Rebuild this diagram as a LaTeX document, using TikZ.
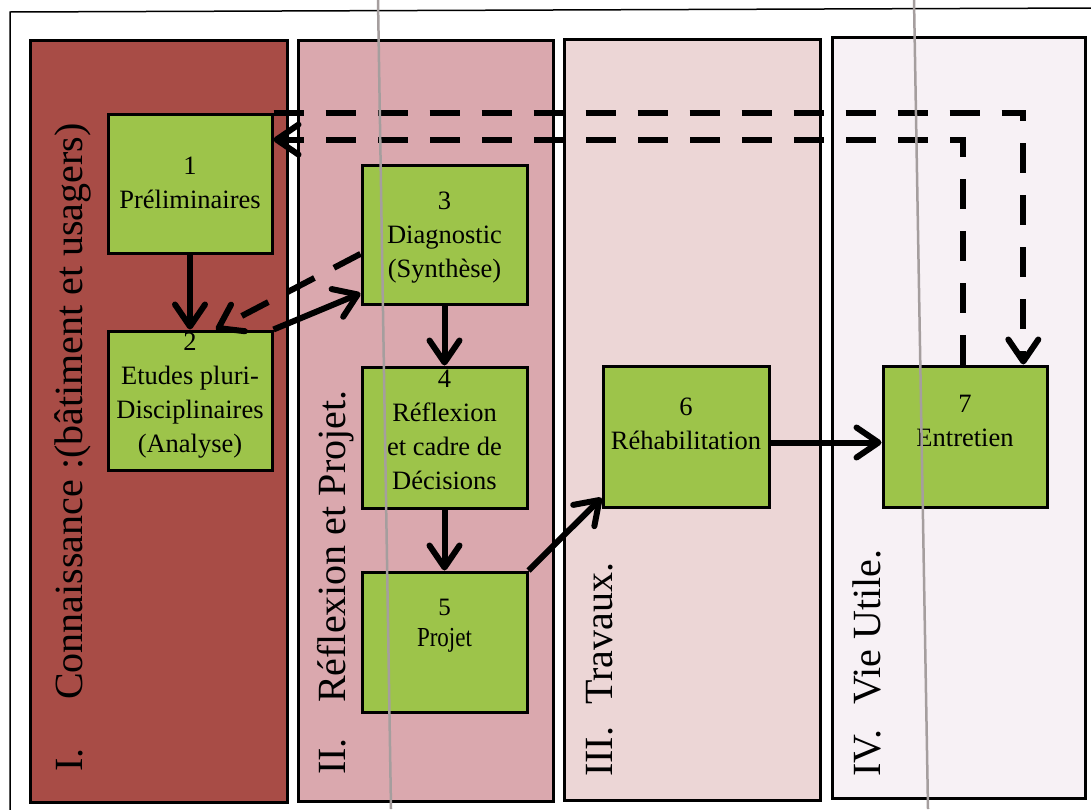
\documentclass[tikz,border=0pt]{standalone}
\usepackage{fontspec}
\setmainfont{Liberation Serif}
\usetikzlibrary{arrows.meta}
\definecolor{colI}{RGB}{168,76,70}
\definecolor{colII}{RGB}{218,168,174}
\definecolor{colIII}{RGB}{236,214,214}
\definecolor{colIV}{RGB}{247,241,245}
\definecolor{boxgreen}{RGB}{157,196,74}
\definecolor{scanline}{RGB}{165,158,158}
\begin{document}
\begin{tikzpicture}[x=1pt,y=-1pt,
  phase/.style={draw=black, line width=3pt, line join=miter},
  stepbox/.style={draw=black, line width=3pt, fill=boxgreen, minimum width=164pt, minimum height=139pt, inner sep=0pt},
  boxtext/.style={align=center, font=\fontsize{26.5}{34}\selectfont, inner sep=0pt},
  phaselabel/.style={rotate=90, anchor=base west, font=\fontsize{40}{48}\selectfont, inner sep=0pt},
  conn/.style={line width=6pt, -{Straight Barb[length=22pt,width=30pt,round]}},
  dconn/.style={conn, dash pattern=on 30pt off 22pt}]
\useasboundingbox (0,0) rectangle (1091,809);
\fill[white] (0,0) rectangle (1091,809);
% outer frame
\draw[line width=1.5pt] (10,815) -- (10,12) -- (1095,8);
% phase columns
\draw[phase, fill=colI] (30,40) rectangle (287,802);
\draw[phase, fill=colII] (298,40) rectangle (553,801);
\draw[phase, fill=colIII] (564,39) rectangle (820,800);
\draw[phase, fill=colIV] (832,37) rectangle (1085,798);
% phase labels
\node[phaselabel] (l1) at (82,772) {\makebox[72pt][l]{I.}Connaissance :(bâtiment et usagers)};
\node[phaselabel] (l2) at (345,775) {\makebox[72pt][l]{II.}Réflexion et Projet.};
\node[phaselabel] (l3) at (612,777) {\makebox[72pt][l]{III.}Travaux.};
\node[phaselabel] (l4) at (880,777) {\makebox[72pt][l]{IV.}Vie Utile.};
% step boxes
\node[stepbox] (b1) at (190,184) {};
\node[stepbox] (b2) at (190,400.5) {};
\node[stepbox, minimum width=165pt] (b3) at (444.5,234.5) {};
\node[stepbox, minimum width=165pt, minimum height=141pt] (b4) at (444.5,437.5) {};
\node[stepbox, minimum width=165pt, minimum height=140pt] (b5) at (444.5,642) {};
\node[stepbox, minimum width=166pt, minimum height=141pt] (b6) at (686,436.5) {};
\node[stepbox, minimum height=141pt] (b7) at (965,436.5) {};
% box texts
\node[boxtext] (t1) at (190,183) {1\\Préliminaires};
\node[boxtext] (t2) at (190,396) {2\\Etudes pluri-\\Disciplinaires\\(Analyse)};
\node[boxtext] (t3) at (444.5,238) {3\\Diagnostic\\(Synthèse)};
\node[boxtext] (t4) at (444.5,430) {4\\Réflexion\\et cadre de\\Décisions};
\node[boxtext, font=\fontsize{25}{31}\selectfont] (t5) at (444.5,626) {5\\\scalebox{0.92}[1.1]{Projet}};
\node[boxtext] (t6) at (686,424) {6\\Réhabilitation};
\node[boxtext] (t7) at (965,421) {7\\Entretien};
% connectors
\draw[conn] (b1.south) -- (b2.north);
\draw[conn] (b2.north east) -- (b3.215);
\draw[dconn] (b3.193) -- (b2.70);
\draw[conn] (b3.south) -- (b4.north);
\draw[conn] (b4.south) -- (b5.north);
\draw[conn] (b5.north east) -- (b6.216);
\draw[conn] ([yshift=-6pt]b6.east) -- ([yshift=-6pt]b7.west);
\draw[dconn] ([xshift=-2pt]b7.north) |- (b1.28);
\draw[dconn] (b1.north east) -| (b7.51);
% scanner streaks
\draw[scanline, line width=2.5pt] (378,0) -- (391,809);
\draw[scanline, line width=2.5pt] (914,0) -- (928,809);
\end{tikzpicture}
\end{document}
